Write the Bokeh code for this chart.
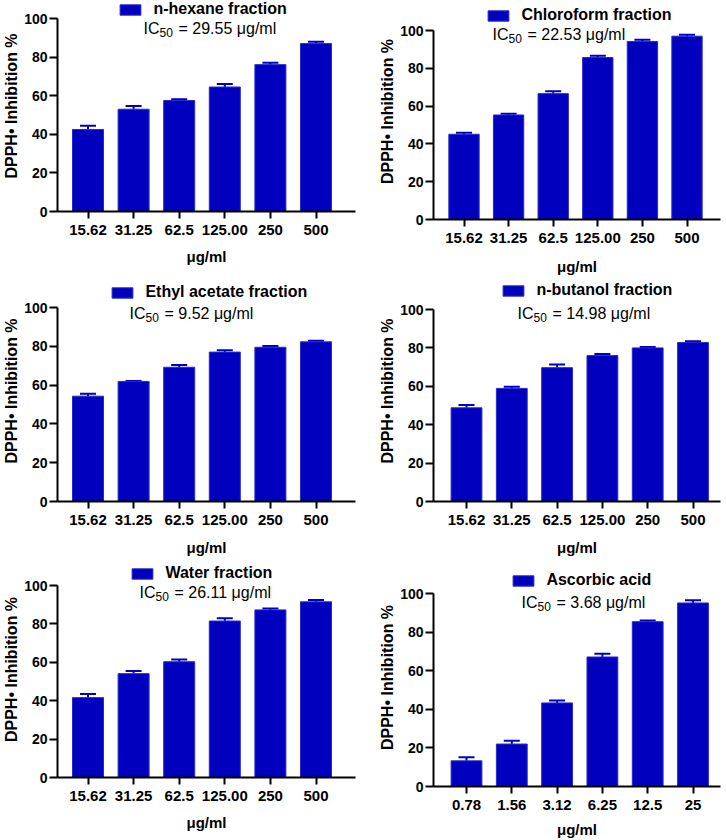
from bokeh.plotting import figure
from bokeh.models import (ColumnDataSource, FixedTicker, Range1d, Legend, LegendItem,
                          Label, Whisker, TeeHead)
from bokeh.layouts import row, column
from bokeh.embed import file_html
from bokeh.resources import INLINE

# ---------------- data ----------------
fraction_doses = ["15.62", "31.25", "62.5", "125.00", "250", "500"]
ascorbic_doses = ["0.78", "1.56", "3.12", "6.25", "12.5", "25"]

sample_names = ["n-hexane fraction", "Chloroform fraction", "Ethyl acetate fraction",
                "n-butanol fraction", "Water fraction", "Ascorbic acid"]
ic50_values = [29.55, 22.53, 9.52, 14.98, 26.11, 3.68]

hexane_mean = [42.5, 53.0, 57.5, 64.5, 76.1, 87.0]
hexane_err = [1.9, 1.6, 0.7, 1.5, 1.0, 1.0]
chloroform_mean = [45.1, 55.3, 66.6, 85.7, 94.2, 97.0]
chloroform_err = [0.8, 0.7, 1.2, 0.9, 0.9, 0.7]
ethyl_mean = [54.3, 61.9, 69.2, 77.0, 79.5, 82.3]
ethyl_err = [1.2, 0.2, 1.2, 0.9, 0.7, 0.5]
butanol_mean = [48.8, 58.9, 69.7, 76.0, 80.0, 82.8]
butanol_err = [1.5, 0.9, 1.7, 0.8, 0.5, 0.6]
water_mean = [41.6, 54.1, 60.3, 81.5, 87.3, 91.5]
water_err = [1.9, 1.4, 1.1, 1.5, 0.7, 0.9]
ascorbic_mean = [13.3, 22.0, 43.3, 67.1, 85.4, 95.1]
ascorbic_err = [1.8, 1.7, 1.2, 1.7, 0.6, 1.4]

y_ticks = [0, 20, 40, 60, 80, 100]
x_title = "μg/ml"
y_title = "DPPH• Inhibition %"

# ---------------- layout / style (page pixels) ----------------
FONT = "Liberation Sans"
BLUE = "#0000BE"
EDGE = "#2A2ACB"
COL_X = [0, 363]
COL_W = [363, 363]
ROW_Y = [0, 280, 560]
ROW_H = [280, 280, 280]

LAYOUT = [
    dict(col=0, row=0, axis_x=57, x_end=355, c0=87.5, sp=45.6, y100=18, y0=211,
         leg_x=122, leg_y=9, ic_x=143, ic_y=28, xt_y=256),
    dict(col=1, row=0, axis_x=433, x_end=720, c0=463.5, sp=44.6, y100=30, y0=219,
         leg_x=490, leg_y=15, ic_x=492, ic_y=34, xt_y=266),
    dict(col=0, row=1, axis_x=57, x_end=355, c0=87.5, sp=45.6, y100=307, y0=501,
         leg_x=114, leg_y=292, ic_x=129, ic_y=313, xt_y=547),
    dict(col=1, row=1, axis_x=433, x_end=720, c0=466, sp=45.3, y100=309, y0=501,
         leg_x=505, leg_y=290, ic_x=517, ic_y=313, xt_y=547),
    dict(col=0, row=2, axis_x=57, x_end=355, c0=87.5, sp=45.6, y100=585, y0=777,
         leg_x=134, leg_y=573, ic_x=139, ic_y=592, xt_y=822),
    dict(col=1, row=2, axis_x=433, x_end=720, c0=466, sp=45.3, y100=593, y0=786,
         leg_x=515, leg_y=580, ic_x=521, ic_y=602, xt_y=829),
]


def make_panel(name, ic, doses, means, errs, L):
    cl, cw = COL_X[L["col"]], COL_W[L["col"]]
    rt, rh = ROW_Y[L["row"]], ROW_H[L["row"]]
    ax, xe, c0, sp = L["axis_x"], L["x_end"], L["c0"], L["sp"]
    y100, y0 = L["y100"], L["y0"]
    h = 18.0
    ft = max(rt, int(L["leg_y"] - h / 2 - 3))   # frame top (page px)
    ppu = (y0 - y100) / 100.0
    x_range = Range1d((ax - c0) / sp, (xe - c0) / sp)
    y_range = Range1d(0, (y0 - ft) / ppu)
    p = figure(width=cw, height=rh, x_range=x_range, y_range=y_range,
               output_backend="svg", toolbar_location=None, min_border=0,
               min_border_left=ax - cl, min_border_right=cl + cw - xe,
               min_border_top=ft - rt, min_border_bottom=rt + rh - y0)
    p.outline_line_color = None
    p.xgrid.visible = False
    p.ygrid.visible = False
    p.background_fill_color = "white"
    p.border_fill_color = "white"

    xs = list(range(len(doses)))
    src = ColumnDataSource(dict(x=xs, top=means,
                                upper=[m + e for m, e in zip(means, errs)]))
    bars = p.vbar(x="x", top="top", width=0.68, source=src,
                  fill_color=BLUE, line_color=EDGE, line_width=1)
    p.add_layout(Whisker(source=src, base="x", lower="top", upper="upper",
                         dimension="height", line_color=BLUE, line_width=2,
                         upper_head=TeeHead(size=16, line_color=BLUE, line_width=2),
                         lower_head=None))

    # x axis
    xa = p.xaxis[0]
    xa.ticker = FixedTicker(ticks=xs)
    xa.major_label_overrides = {i: d for i, d in zip(xs, doses)}
    xa.major_label_text_font = FONT
    xa.major_label_text_font_style = "bold"
    xa.major_label_text_font_size = "15px"
    xa.major_label_text_color = "black"
    xa.major_label_standoff = 6
    xa.major_tick_out = 7
    xa.major_tick_in = 0
    xa.minor_tick_line_color = None
    xa.axis_line_width = 2
    xa.major_tick_line_width = 2
    xa.axis_label = x_title
    xa.axis_label_text_font = FONT
    xa.axis_label_text_font_style = "bold"
    xa.axis_label_text_font_size = "15px"
    xa.axis_label_text_color = "black"
    xa.axis_label_standoff = max(0, int(round(L["xt_y"] - y0 - 35)))

    # y axis
    ya = p.yaxis[0]
    ya.ticker = FixedTicker(ticks=y_ticks)
    ya.bounds = (0, 100)
    ya.axis_label = y_title
    ya.axis_label_text_font = FONT
    ya.axis_label_text_font_style = "bold"
    ya.axis_label_text_font_size = "16px"
    ya.axis_label_text_color = "black"
    ya.axis_label_standoff = 1
    ya.major_label_text_font = FONT
    ya.major_label_text_font_style = "bold"
    ya.major_label_text_font_size = "14px"
    ya.major_label_text_color = "black"
    ya.major_label_standoff = 2
    ya.major_tick_out = 8
    ya.major_tick_in = 0
    ya.minor_tick_line_color = None
    ya.axis_line_width = 2
    ya.major_tick_line_width = 2

    # legend (swatch + bold name)
    vx = (L["leg_x"] - 4.6) - ax
    vy = y0 - (L["leg_y"] + h / 2)
    leg = Legend(items=[LegendItem(label=name, renderers=[bars])],
                 location=(vx, vy), glyph_width=26, glyph_height=13,
                 label_height=18, label_standoff=10, padding=0, margin=0, spacing=0,
                 border_line_color=None, background_fill_alpha=0,
                 label_text_font=FONT, label_text_font_style="bold",
                 label_text_font_size="16px", label_text_color="black")
    p.add_layout(leg)

    # IC50 annotation
    bx = (L["ic_x"] - c0) / sp
    yc = L["ic_y"]
    common = dict(text_font=FONT, text_baseline="middle", text_color="black")
    p.add_layout(Label(x=bx, y=(y0 - yc) / ppu, text="IC",
                       text_font_size="16px", **common))
    p.add_layout(Label(x=bx, y=(y0 - yc - 3.5) / ppu, x_offset=16, text="50",
                       text_font_size="12px", **common))
    p.add_layout(Label(x=bx, y=(y0 - yc) / ppu, x_offset=35, text=f"= {ic:.2f} μg/ml",
                       text_font_size="16px", **common))
    return p


series = [
    (hexane_mean, hexane_err, fraction_doses),
    (chloroform_mean, chloroform_err, fraction_doses),
    (ethyl_mean, ethyl_err, fraction_doses),
    (butanol_mean, butanol_err, fraction_doses),
    (water_mean, water_err, fraction_doses),
    (ascorbic_mean, ascorbic_err, ascorbic_doses),
]

panels = [make_panel(n, ic, d, m, e, L)
          for n, ic, (m, e, d), L in zip(sample_names, ic50_values, series, LAYOUT)]

# two independent columns, so that frames are only aligned left/right within a column
page = row(column(panels[0], panels[2], panels[4]),
           column(panels[1], panels[3], panels[5]))

open("out.html", "w").write(file_html(page, INLINE))
